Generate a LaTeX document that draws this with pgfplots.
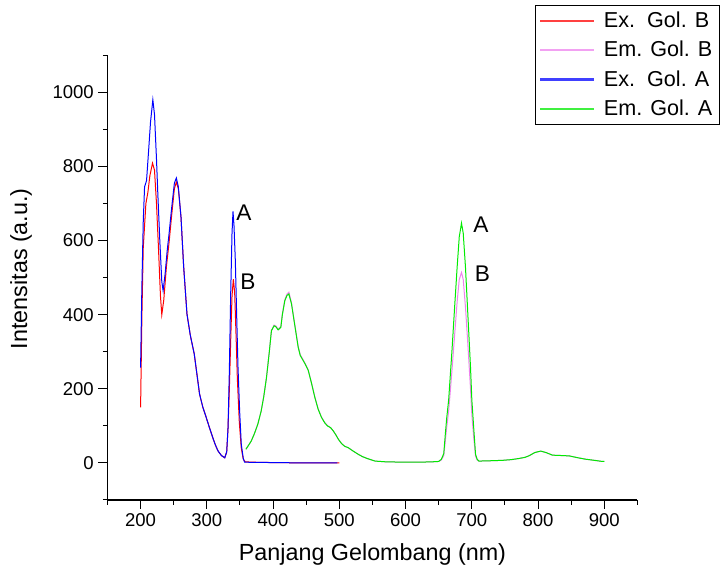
\documentclass[border=0pt]{standalone}
\usepackage{pgfplots}
\pgfplotsset{compat=1.18}
\usepackage{fontspec}
\setmainfont{Liberation Sans}
\definecolor{exb}{RGB}{255,0,0}
\definecolor{emb}{RGB}{238,130,238}
\definecolor{exa}{RGB}{0,0,255}
\definecolor{ema}{RGB}{0,235,0}
\begin{document}
\begin{tikzpicture}
\useasboundingbox (0,0) rectangle (543.75pt,430.5pt);
\begin{axis}[
  at={(80.6pt,55.5pt)}, anchor=south west,
  scale only axis, width=397.5pt, height=333.5pt,
  xmin=150, xmax=950, ymin=-100, ymax=1100,
  axis lines=left, axis line style={-, line width=0.9pt},
  tick align=outside,
  major tick length=6.75pt, minor tick length=3.4pt,
  tick style={black, line width=0.75pt},
  xtick={200,300,...,900}, minor xtick={150,250,...,950},
  ytick={0,200,...,1000}, minor ytick={-100,100,...,1100},
  /pgf/number format/assume math mode=true,
  /pgf/number format/1000 sep={},
  tick label style={font=\fontsize{13.9}{16}\selectfont},
  label style={font=\fontsize{17.5}{20}\selectfont},
  xlabel={Panjang Gelombang (nm)},
  ylabel={Intensitas (a.u.)},
  xlabel style={at={(axis description cs:0.5,0)}, anchor=north, yshift=-29pt},
  ylabel style={at={(axis description cs:-0.163,0.52)}, anchor=center},
  legend style={at={(1.1547,1.1135)}, anchor=north east, draw=black, line width=0.6pt,
    font=\fontsize{16.2}{20}\selectfont, inner xsep=3pt, inner ysep=3pt, row sep=4.8pt, column sep=5pt},
  legend cell align=left,
  legend image code/.code={\draw[#1, line width=1.6pt, opacity=0.75] (5pt,0pt) -- (45pt,0pt);},
  every axis plot/.append style={line width=0.75pt},
  clip=false,
]
% Ex. Gol. B
\addplot[exb] coordinates {
(200,150)(202,400)(204,580)(206,640)(208,700)(211,730)(214,775)(218,809)(221,790)(224,700)
(227,580)(230,450)(232,400)(235,440)(239,530)(243,595)(247,670)(251,740)(254,758)(257,740)
(261,663)(265,530)(270,402)(275,345)(281,294)(285,240)(289,186)(294,150)(299,123)(304,95)
(309,68)(313,48)(317,32)(322,20)(327,14)(330,30)(332,95)(334,200)(336,330)(338,450)
(340,496)(342,460)(344,350)(346,230)(349,110)(352,40)(355,10)(358,3)(370,2)(400,1)(450,0)(500,0)
};
\addlegendentry{Ex.\ \ Gol. B}
% Em. Gol. B
\addplot[emb] coordinates {
(359,37)(362,45)(367,59)(372,80)(377,105)(382,140)(386,180)(390,230)(394,295)(397.5,357)
(401.5,372)(404,370)(407.6,361)(411.7,368)(414,402)(417.7,440)(421,456)(423.8,461)(427.8,432)
(432,382)(437.9,314)(441,292)(445.5,278)(449,266)(453,251)(458,216)(463,178)(468,146)(473,124)
(478,109)(482,101)(487,95)(491,86)(495,75)(498.5,64)(503.5,52)(508,45)(513.6,41)(520,33)
(528.8,23)(535,17)(542,12)(554,5)(570,3)(600,2)(620,2)(640,3)(650,4)(654,8)(657.6,20)
(660,60)(662,95)(665,140)(668,205)(670,250)(674,345)(677.8,435)(681,495)(684.4,514)(687,495)
(690.4,420)(694,320)(698,200)(700,130)(703,65)(705.6,18)(708,8)(710.6,5)(730,6)(746,7)
(760,9)(771,12)(780,15)(786,19)(795,28)(804,32)(812,28)(821.7,21)(835,20)(847,19)(860,14)
(872,10)(885,7)(897,4)(900,4)
};
\addlegendentry{Em. Gol. B}
% Ex. Gol. A
\addplot[exa] coordinates {
(200,257)(202,480)(204,650)(206,745)(209,762)(212,840)(215,920)(218.5,980)(221,940)(224,820)
(226,727)(229,600)(232,490)(234,465)(237,510)(240,570)(243,619)(247,690)(251,755)(254,769)
(257,745)(261,663)(265,530)(270,402)(275,345)(281,294)(285,240)(289,186)(294,150)(299,123)
(304,95)(309,68)(313,48)(317,32)(322,20)(327,14)(330,30)(332,95)(334,250)(336,456)(338,620)
(339.5,679)(341,640)(343,546)(345,400)(347,260)(349.5,140)(352,50)(355,12)(357,2)(400,1)(450,0)(497,0)
};
\addlegendentry{Ex.\ \ Gol. A}
% Em. Gol. A
\addplot[ema] coordinates {
(359,37)(362,45)(367,59)(372,80)(377,105)(382,140)(386,180)(390,230)(394,295)(397.5,357)
(401.5,370)(404,368)(407.6,359)(411.7,366)(414,400)(417.7,438)(421,452)(423.8,456)(427.8,429)
(432,380)(437.9,312)(441,290)(445.5,276)(449,265)(453,250)(458,215)(463,177)(468,145)(473,123)
(478,108)(482,100)(487,95)(491,86)(495,75)(498.5,64)(503.5,52)(508,45)(513.6,41)(520,33)
(528.8,23)(535,17)(542,12)(554,5)(570,3)(600,2)(620,2)(640,3)(650,4)(654,10)(657.6,25)
(660,78)(662,120)(665,170)(668,250)(670,303)(674,420)(677.8,528)(681,610)(684.4,647)(687,620)
(690.4,528)(694,400)(698,258)(700,170)(703,90)(705.6,23)(708,10)(710.6,5)(730,6)(746,7)
(760,9)(771,12)(780,15)(786,19)(795,28)(804,32)(812,28)(821.7,21)(835,20)(847,19)(860,14)
(872,10)(885,7)(897,4)(900,4)
};
\addlegendentry{Em. Gol. A}
\node[font=\fontsize{17}{20}\selectfont] at (axis cs:356,675) {A};
\node[font=\fontsize{17}{20}\selectfont] at (axis cs:362,488) {B};
\node[font=\fontsize{17}{20}\selectfont] at (axis cs:713.6,642) {A};
\node[font=\fontsize{17}{20}\selectfont] at (axis cs:716,510) {B};
\end{axis}
\end{tikzpicture}
\end{document}
